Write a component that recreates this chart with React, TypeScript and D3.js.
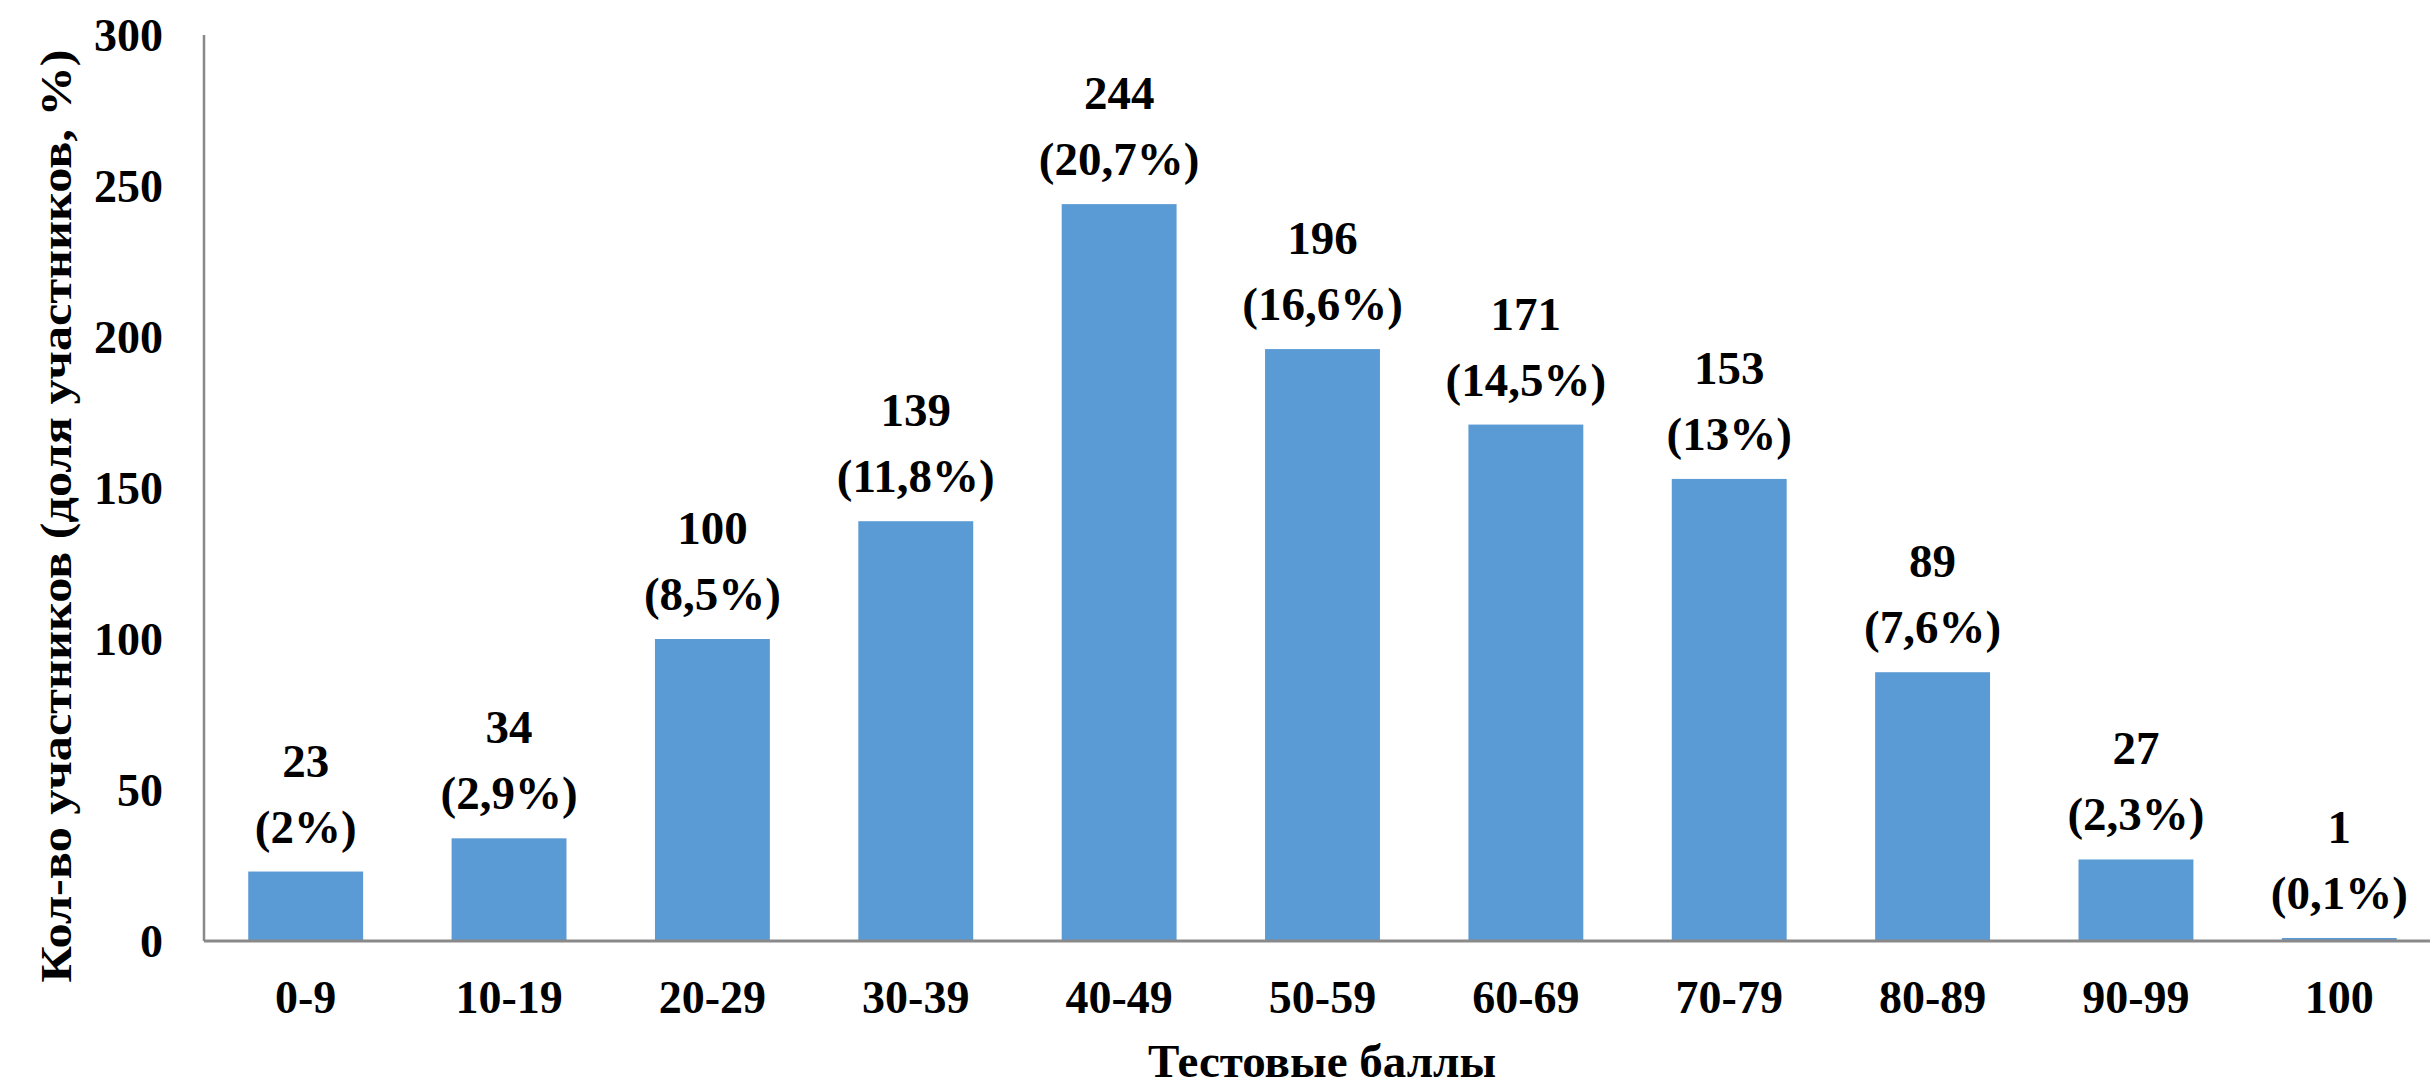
import React from "react";
import * as d3 from "d3";

const categories: string[] = ["0-9", "10-19", "20-29", "30-39", "40-49", "50-59", "60-69", "70-79", "80-89", "90-99", "100"];
const counts: number[] = [23, 34, 100, 139, 244, 196, 171, 153, 89, 27, 1];
const shares: string[] = ["2%", "2,9%", "8,5%", "11,8%", "20,7%", "16,6%", "14,5%", "13%", "7,6%", "2,3%", "0,1%"];
const yTicks: number[] = [0, 50, 100, 150, 200, 250, 300];
const yTitle = "Кол-во участников (доля участников, %)";
const xTitle = "Тестовые баллы";

const W = 2430;
const H = 1090;
const FONT = "Liberation Serif, Tinos, Times New Roman, DejaVu Serif Condensed, DejaVu Serif, serif";

export default function App() {
  const x = d3.scaleBand<string>().domain(categories).range([204, 2441]).paddingInner(0.435).paddingOuter(0.2175);
  const y = d3.scaleLinear().domain([0, 300]).range([941, 35]);
  const axisColor = "#898989";

  return (
    <svg width={W} height={H} style={{ position: "absolute", left: 0, top: 0, background: "#fff", fontFamily: FONT }}>
      <rect x={0} y={0} width={W} height={H} fill="#fff" />
      {categories.map((c, i) => (
        <rect key={c} x={x(c)} y={y(counts[i])} width={x.bandwidth()} height={y(0) - y(counts[i])} fill="#5B9BD5" />
      ))}
      <line x1={204} x2={204} y1={y(300)} y2={y(0)} stroke={axisColor} strokeWidth={2.5} />
      <line x1={204} x2={W} y1={y(0)} y2={y(0)} stroke={axisColor} strokeWidth={3} />
      {yTicks.map((t) => (
        <text key={t} x={163} y={y(t)} dy="0.35em" textAnchor="end" fontSize={46} fontWeight="bold" fill="#000">
          {t}
        </text>
      ))}
      {categories.map((c) => (
        <text key={c} x={(x(c) as number) + x.bandwidth() / 2} y={1013} textAnchor="middle" fontSize={46} fontWeight="bold" fill="#000">
          {c}
        </text>
      ))}
      {categories.map((c, i) => {
        const cx = (x(c) as number) + x.bandwidth() / 2;
        const top = y(counts[i]);
        return (
          <g key={c} fontSize={47} fontWeight="bold" fill="#000" textAnchor="middle">
            <text x={cx} y={top - 95}>{counts[i]}</text>
            <text x={cx} y={top - 29}>({shares[i]})</text>
          </g>
        );
      })}
      <text
        transform={`translate(71, 516) rotate(-90)`}
        textAnchor="middle"
        fontSize={44}
        fontWeight="bold"
        fill="#000"
        textLength={933}
        lengthAdjust="spacingAndGlyphs"
      >
        {yTitle}
      </text>
      <text x={1322} y={1077} textAnchor="middle" fontSize={47} fontWeight="bold" fill="#000">
        {xTitle}
      </text>
    </svg>
  );
}
